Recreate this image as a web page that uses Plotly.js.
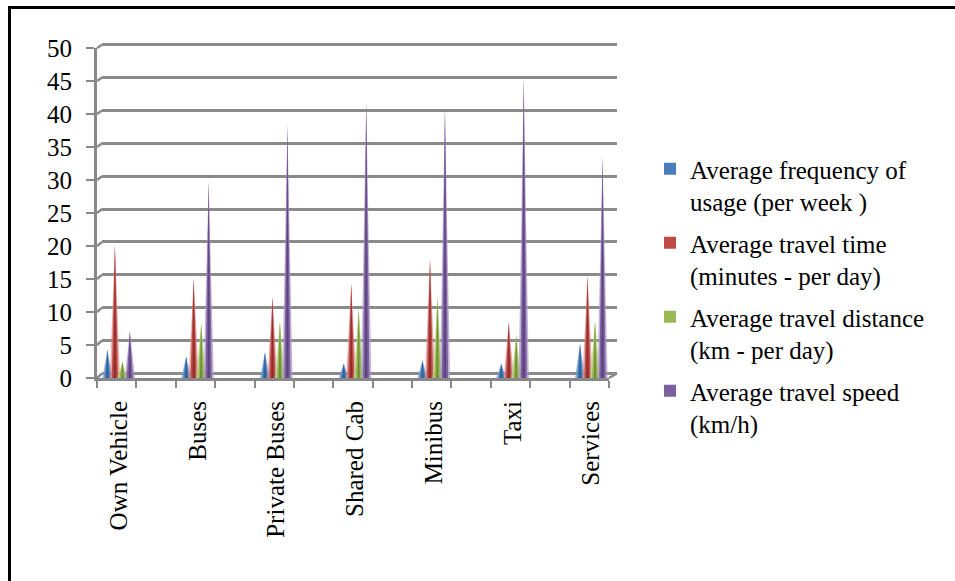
<!DOCTYPE html>
<html>
<head>
<meta charset="utf-8">
<script src="https://cdn.plot.ly/plotly-3.0.1.min.js"></script>
<style>
  html, body { margin: 0; padding: 0; background: #fff; }
  #chart { width: 955px; height: 581px; }
  #frame { position: absolute; left: 8px; top: 6px; right: 0; bottom: 0;
           border-left: 3.5px solid #000; border-top: 3px solid #000; pointer-events: none; }
</style>
</head>
<body>
<div id="chart"></div>
<div id="frame"></div>
<script>
// Transport modes and the four averages for each
const categories = ['Own Vehicle', 'Buses', 'Private Buses', 'Shared Cab', 'Minibus', 'Taxi', 'Services'];
const frequency      = [4.3, 3.3, 3.9, 2.2, 2.7, 2.2, 5.2];
const travelTime     = [20.2, 15.1, 12.3, 14.3, 18.0, 8.5, 15.5];
const travelDistance = [2.5, 8.3, 8.5, 10.4, 12.2, 6.5, 8.6];
const travelSpeed    = [7.1, 29.8, 38.3, 41.8, 40.9, 45.4, 33.6];
const seriesNames = [
  'Average frequency of<br>usage (per week )',
  'Average travel time<br>(minutes - per day)',
  'Average travel distance<br>(km - per day)',
  'Average travel speed<br>(km/h)'
];
const yTicks = [0, 5, 10, 15, 20, 25, 30, 35, 40, 45, 50];

const seriesValues = [frequency, travelTime, travelDistance, travelSpeed];
const baseColors  = ['#4a7ebb', '#be4b48', '#98b954', '#7d60a0'];
const tintColors  = ['rgba(120,160,215,0.7)', 'rgba(220,140,138,0.7)', 'rgba(190,215,140,0.75)', 'rgba(170,150,200,0.7)'];
const darkColors  = ['#2f5f95', '#8e2c2a', '#6e8b33', '#5b437c'];

// Page geometry
const W = 955, H = 581;
const M = { l: 97, r: 338, t: 37, b: 203 };
const plotW = W - M.l - M.r;
const plotH = H - M.t - M.b;

// Front axes (data) and the back wall (grid) are offset to give the 3-D depth
const dataXDom = [0, 512 / plotW];
const dataYDom = [0, 330 / plotH];
const gridXDom = [5 / plotW, 1];
const gridYRange = [-0.7, 50.8];
const gridYDom = [0, 338.5 / plotH];

// Each mode sits in every other slot of a 13-slot category axis
const nSlots = 13;
const centers = categories.map((_, i) => 2 * i + 0.55);
const offsets = [-0.285, -0.095, 0.095, 0.285];
const halfW = 0.13;

const traces = [];

// Back wall subplot (carries only the horizontal grid)
traces.push({ type: 'scatter', mode: 'lines', x: [null], y: [null], xaxis: 'x', yaxis: 'y',
              showlegend: false, hoverinfo: 'skip' });

seriesValues.forEach((vals, s) => {
  const layers = [
    { f: 1.0,  color: tintColors[s] },
    { f: 0.62, color: baseColors[s] },
    { f: 0.22, color: darkColors[s] }
  ];
  layers.forEach(layer => {
    const xs = [], ys = [];
    vals.forEach((v, i) => {
      const c = centers[i] + offsets[s];
      xs.push(c - halfW * layer.f, c, c + halfW * layer.f, null);
      ys.push(0, v, 0, null);
    });
    traces.push({
      type: 'scatter', mode: 'lines', x: xs, y: ys,
      xaxis: 'x2', yaxis: 'y2',
      fill: 'toself', fillcolor: layer.color,
      line: { width: 0, color: layer.color },
      showlegend: false, hoverinfo: 'skip'
    });
  });
});

// Legend entries (square swatches)
seriesNames.forEach((name, s) => {
  traces.push({
    type: 'bar', x: [null], y: [null], xaxis: 'x2', yaxis: 'y2',
    name: name, legendgroup: 'g' + s,
    marker: { color: baseColors[s], line: { width: 0 } }
  });
});

// 3-D edges joining the front axes to the back wall
const lerp = (d, t) => d[0] + t * (d[1] - d[0]);
const gridFrac = v => lerp(gridYDom, (v - gridYRange[0]) / (gridYRange[1] - gridYRange[0]));
const edgeStyle = { color: '#8a8a8a', width: 2.5 };
const shapes = yTicks.map(v => ({
  type: 'line', xref: 'paper', yref: 'paper', layer: 'below',
  x0: dataXDom[0], y0: lerp(dataYDom, v / 50),
  x1: gridXDom[0], y1: gridFrac(v),
  line: edgeStyle
}));
shapes.push({
  type: 'line', xref: 'paper', yref: 'paper', layer: 'below',
  x0: dataXDom[1], y0: dataYDom[0], x1: gridXDom[1], y1: gridFrac(0),
  line: edgeStyle
});

const serif = 'Liberation Serif, Times New Roman, serif';
const layout = {
  width: W, height: H,
  margin: { l: M.l, r: M.r, t: M.t, b: M.b, pad: 0 },
  paper_bgcolor: '#fff', plot_bgcolor: 'rgba(0,0,0,0)',
  showlegend: true,
  xaxis: {
    anchor: 'y', domain: gridXDom, range: [0, 1],
    showgrid: false, showticklabels: false, zeroline: false, showline: false, ticks: ''
  },
  yaxis: {
    anchor: 'x', domain: gridYDom, range: gridYRange, tickmode: 'array', tickvals: yTicks,
    showgrid: true, gridcolor: '#8a8a8a', gridwidth: 3,
    showticklabels: false, zeroline: false, showline: false, ticks: ''
  },
  xaxis2: {
    anchor: 'y2', domain: dataXDom, range: [0, nSlots],
    tickmode: 'array', tickvals: centers, ticktext: categories, tickangle: -90,
    ticks: 'outside', ticklen: 0,
    minor: { ticks: 'outside', ticklen: 7, tickwidth: 2, tickcolor: '#888', tick0: 0, dtick: 1 },
    showline: true, linecolor: '#888', linewidth: 3,
    showgrid: false, zeroline: false,
    tickfont: { family: serif, size: 25, color: '#000' },
    ticklabelstandoff: 10
  },
  yaxis2: {
    anchor: 'x2', domain: dataYDom, range: [0, 50],
    tickmode: 'array', tickvals: yTicks,
    ticks: 'outside', ticklen: 8, tickwidth: 2, tickcolor: '#888',
    showline: true, linecolor: '#888', linewidth: 3,
    showgrid: false, zeroline: false,
    tickfont: { family: serif, size: 25, color: '#000' },
    ticklabelstandoff: 9
  },
  legend: {
    x: (650 - M.l) / plotW, y: 1 - (146 - M.t) / plotH,
    xanchor: 'left', yanchor: 'top',
    font: { family: serif, size: 25, color: '#000' },
    valign: 'top', traceorder: 'grouped', tracegroupgap: 6,
    bgcolor: 'rgba(0,0,0,0)', borderwidth: 0
  },
  shapes: shapes,
  hovermode: false
};

Plotly.newPlot('chart', traces, layout, { staticPlot: true, displayModeBar: false });
</script>
</body>
</html>
